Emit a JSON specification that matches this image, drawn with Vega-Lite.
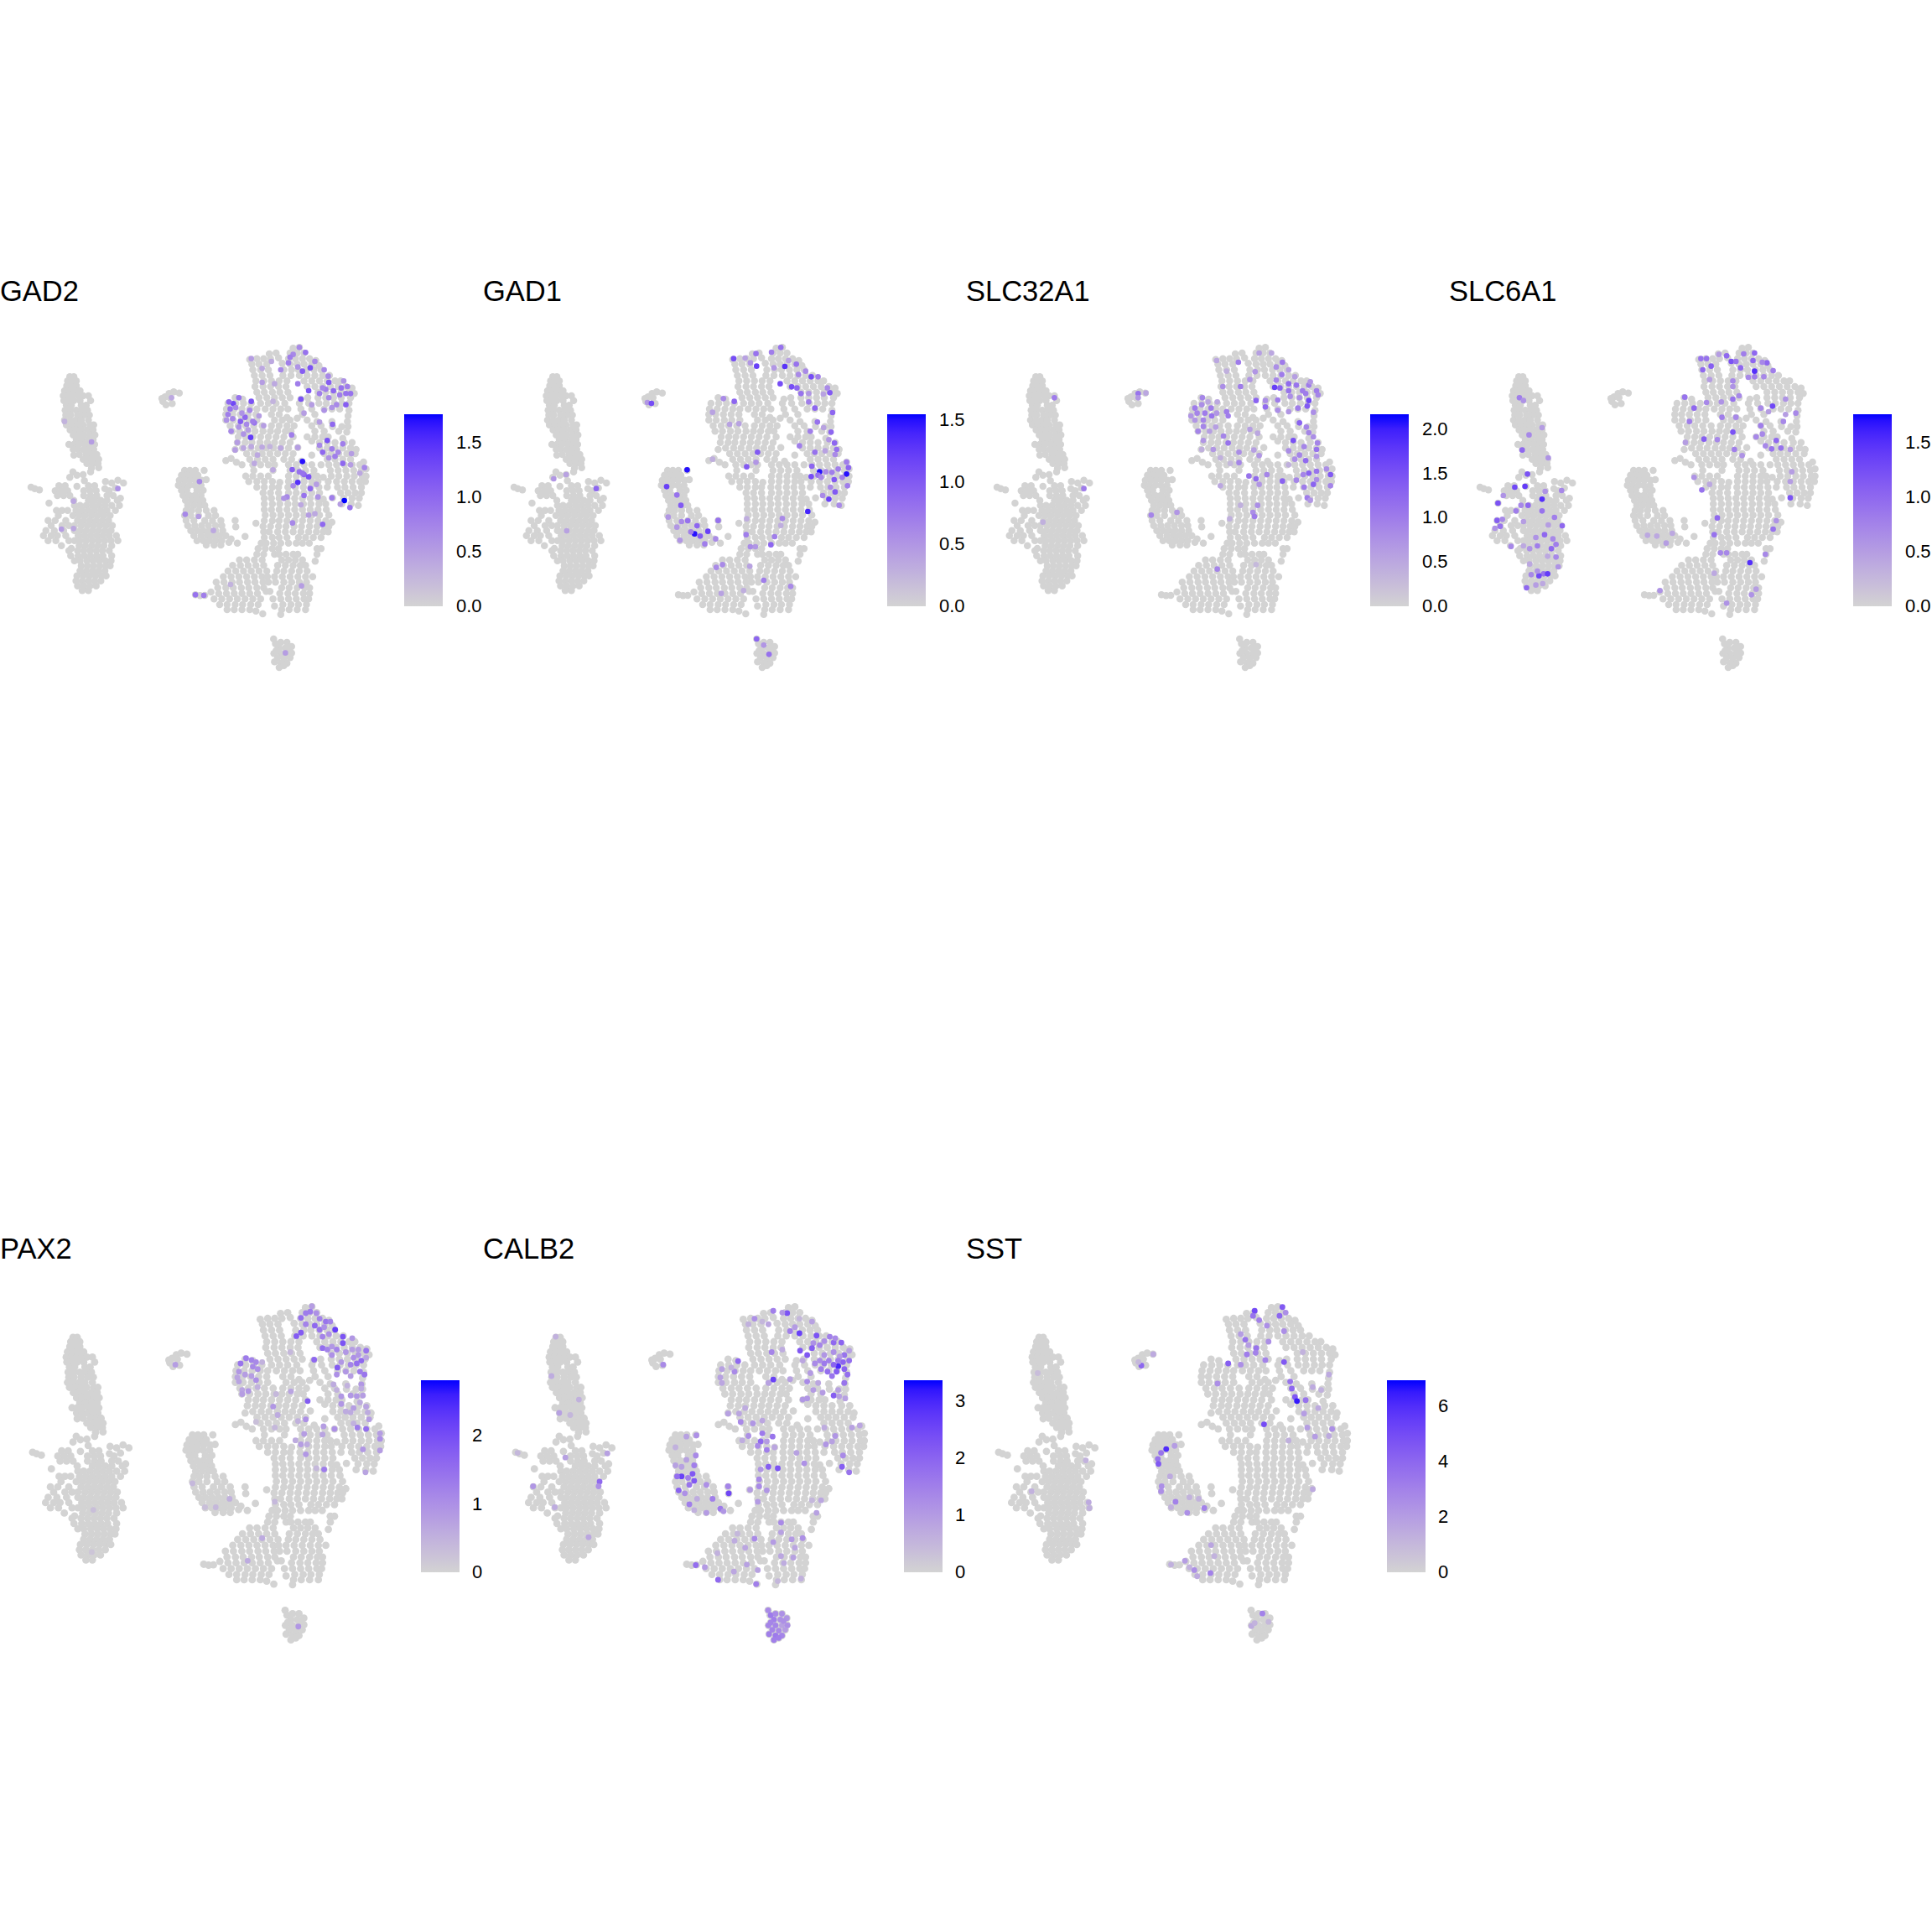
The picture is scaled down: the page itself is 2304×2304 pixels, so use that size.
{"$schema":"https://vega.github.io/schema/vega-lite/v6.json","padding":{"left":0,"top":330,"right":0,"bottom":0},"background":"white","columns":4,"spacing":{"row":620,"column":0},"bounds":"flush","resolve":{"scale":{"color":"independent"},"legend":{"color":"independent"}},"config":{"view":{"stroke":null},"title":{"font":"Liberation Sans","fontSize":34.5,"fontWeight":"normal","anchor":"start","color":"black"},"legend":{"labelFont":"Liberation Sans","labelFontSize":22,"labelColor":"black"}},"datasets":{"cells":[
{"x":225,"y":370},{"x":238,"y":370},{"x":218,"y":385},{"x":232,"y":385},{"x":246,"y":385},{"x":215,"y":402},{"x":232,"y":402},{"x":246,"y":402},{"x":208,"y":420},{"x":224,"y":420},{"x":240,"y":420},{"x":258,"y":420},{"x":204,"y":438},{"x":220,"y":438},{"x":236,"y":438},{"x":252,"y":438},{"x":268,"y":438},{"x":285,"y":438},{"x":206,"y":455},{"x":222,"y":455},{"x":238,"y":455},{"x":258,"y":455},{"x":292,"y":455},{"x":214,"y":472},{"x":230,"y":472},{"x":262,"y":472},{"x":278,"y":472},{"x":210,"y":490},{"x":228,"y":490},{"x":246,"y":490},{"x":264,"y":490},{"x":282,"y":490},{"x":212,"y":507},{"x":228,"y":507},{"x":250,"y":507},{"x":270,"y":507},{"x":288,"y":507},{"x":208,"y":525},{"x":226,"y":525},{"x":244,"y":525},{"x":262,"y":525},{"x":285,"y":525},{"x":214,"y":542},{"x":232,"y":542},{"x":250,"y":542},{"x":268,"y":542},{"x":290,"y":542},{"x":302,"y":542},{"x":226,"y":560},{"x":244,"y":560},{"x":262,"y":560},{"x":282,"y":560},{"x":300,"y":560},{"x":236,"y":578},{"x":252,"y":578},{"x":270,"y":578},{"x":290,"y":578},{"x":306,"y":578},{"x":246,"y":595},{"x":264,"y":595},{"x":284,"y":595},{"x":300,"y":595},{"x":222,"y":612},{"x":238,"y":612},{"x":255,"y":612},{"x":275,"y":612},{"x":292,"y":612},{"x":305,"y":612},{"x":236,"y":630},{"x":252,"y":630},{"x":270,"y":630},{"x":288,"y":630},{"x":302,"y":630},{"x":238,"y":650},{"x":256,"y":648},{"x":278,"y":648},{"x":296,"y":648},{"x":312,"y":648},{"x":268,"y":665},{"x":288,"y":665},{"x":305,"y":665},{"x":318,"y":665},{"x":280,"y":680},{"x":300,"y":680},{"x":316,"y":680},{"x":318,"y":695},{"x":295,"y":697},{"x":292,"y":710},
{"x":100,"y":765},{"x":112,"y":770},{"x":127,"y":775},{"x":235,"y":710},{"x":225,"y":730},{"x":248,"y":722},{"x":268,"y":720},{"x":272,"y":742},{"x":190,"y":760},{"x":210,"y":760},{"x":285,"y":760},{"x":305,"y":760},{"x":340,"y":745},{"x":360,"y":750},{"x":380,"y":740},{"x":398,"y":750},{"x":178,"y":778},{"x":198,"y":778},{"x":218,"y":778},{"x":248,"y":762},{"x":270,"y":778},{"x":290,"y":778},{"x":310,"y":778},{"x":338,"y":770},{"x":352,"y":778},{"x":372,"y":768},{"x":185,"y":795},{"x":205,"y":795},{"x":225,"y":795},{"x":270,"y":795},{"x":292,"y":795},{"x":312,"y":795},{"x":345,"y":795},{"x":365,"y":795},{"x":388,"y":805},{"x":158,"y":822},{"x":238,"y":812},{"x":285,"y":812},{"x":305,"y":812},{"x":325,"y":812},{"x":345,"y":812},{"x":378,"y":812},{"x":240,"y":830},{"x":258,"y":830},{"x":278,"y":830},{"x":298,"y":830},{"x":318,"y":830},{"x":338,"y":830},{"x":360,"y":830},{"x":385,"y":830},{"x":182,"y":848},{"x":200,"y":848},{"x":218,"y":848},{"x":245,"y":848},{"x":265,"y":848},{"x":285,"y":848},{"x":305,"y":848},{"x":325,"y":848},{"x":345,"y":848},{"x":372,"y":848},{"x":188,"y":866},{"x":235,"y":866},{"x":255,"y":866},{"x":275,"y":866},{"x":295,"y":866},{"x":315,"y":866},{"x":335,"y":866},{"x":355,"y":866},{"x":155,"y":884},{"x":178,"y":884},{"x":212,"y":884},{"x":250,"y":884},{"x":270,"y":884},{"x":290,"y":884},{"x":310,"y":884},{"x":330,"y":884},{"x":350,"y":884},{"x":165,"y":902},{"x":200,"y":902},{"x":222,"y":902},{"x":240,"y":902},{"x":262,"y":902},{"x":282,"y":902},{"x":302,"y":902},{"x":322,"y":902},{"x":342,"y":902},{"x":362,"y":902},{"x":148,"y":920},{"x":175,"y":920},{"x":205,"y":920},{"x":240,"y":920},{"x":258,"y":920},{"x":278,"y":920},{"x":298,"y":920},{"x":318,"y":920},{"x":338,"y":920},{"x":358,"y":920},{"x":140,"y":938},{"x":165,"y":938},{"x":185,"y":938},{"x":212,"y":938},{"x":252,"y":938},{"x":272,"y":938},{"x":292,"y":938},{"x":312,"y":938},{"x":332,"y":938},{"x":352,"y":938},{"x":375,"y":938},{"x":155,"y":956},{"x":180,"y":956},{"x":222,"y":956},{"x":240,"y":956},{"x":258,"y":956},{"x":278,"y":956},{"x":298,"y":956},{"x":318,"y":956},{"x":338,"y":956},{"x":358,"y":956},{"x":380,"y":956},{"x":198,"y":974},{"x":230,"y":984},{"x":255,"y":974},{"x":275,"y":974},{"x":295,"y":974},{"x":315,"y":974},{"x":335,"y":974},{"x":360,"y":974},{"x":222,"y":992},{"x":250,"y":992},{"x":270,"y":992},{"x":290,"y":992},{"x":310,"y":992},{"x":330,"y":992},{"x":352,"y":992},{"x":228,"y":1010},{"x":252,"y":1010},{"x":272,"y":1010},{"x":292,"y":1010},{"x":312,"y":1010},{"x":332,"y":1010},{"x":360,"y":1010},{"x":240,"y":1028},{"x":258,"y":1028},{"x":280,"y":1028},{"x":300,"y":1028},{"x":320,"y":1028},{"x":340,"y":1028},{"x":358,"y":1028},{"x":262,"y":1046},{"x":282,"y":1046},{"x":302,"y":1046},{"x":322,"y":1046},{"x":342,"y":1046},{"x":355,"y":1046},{"x":258,"y":1064},{"x":278,"y":1064},{"x":298,"y":1064},{"x":318,"y":1064},{"x":338,"y":1064},{"x":248,"y":1082},{"x":268,"y":1082},{"x":288,"y":1082},{"x":308,"y":1082},{"x":328,"y":1082},{"x":342,"y":1082},{"x":245,"y":1100},{"x":265,"y":1100},{"x":285,"y":1100},{"x":305,"y":1100},{"x":325,"y":1100},{"x":250,"y":1118},{"x":270,"y":1118},{"x":290,"y":1118},{"x":310,"y":1118},{"x":265,"y":1135},{"x":285,"y":1135},
{"x":525,"y":458},{"x":532,"y":442},{"x":545,"y":430},{"x":560,"y":424},{"x":578,"y":428},{"x":555,"y":466},{"x":535,"y":470},{"x":522,"y":448},{"x":548,"y":445},
{"x":595,"y":705},{"x":612,"y":705},{"x":630,"y":705},{"x":658,"y":705},{"x":585,"y":722},{"x":602,"y":722},{"x":620,"y":722},{"x":638,"y":722},{"x":578,"y":740},{"x":595,"y":740},{"x":612,"y":740},{"x":630,"y":740},{"x":650,"y":740},{"x":665,"y":738},{"x":575,"y":758},{"x":592,"y":758},{"x":610,"y":758},{"x":628,"y":758},{"x":648,"y":758},{"x":585,"y":776},{"x":602,"y":776},{"x":635,"y":776},{"x":655,"y":776},{"x":590,"y":794},{"x":610,"y":794},{"x":628,"y":794},{"x":648,"y":794},{"x":598,"y":812},{"x":618,"y":812},{"x":636,"y":812},{"x":654,"y":812},{"x":605,"y":830},{"x":625,"y":830},{"x":645,"y":830},{"x":660,"y":830},{"x":600,"y":848},{"x":618,"y":848},{"x":640,"y":848},{"x":665,"y":848},{"x":690,"y":848},{"x":595,"y":866},{"x":615,"y":866},{"x":640,"y":866},{"x":672,"y":866},{"x":695,"y":866},{"x":600,"y":884},{"x":625,"y":884},{"x":660,"y":884},{"x":685,"y":884},{"x":712,"y":884},{"x":605,"y":902},{"x":628,"y":902},{"x":650,"y":902},{"x":672,"y":902},{"x":695,"y":902},{"x":715,"y":902},{"x":615,"y":920},{"x":635,"y":920},{"x":655,"y":920},{"x":675,"y":920},{"x":695,"y":920},{"x":718,"y":920},{"x":625,"y":938},{"x":648,"y":938},{"x":668,"y":938},{"x":688,"y":938},{"x":708,"y":938},{"x":728,"y":938},{"x":745,"y":950},{"x":635,"y":956},{"x":655,"y":956},{"x":675,"y":956},{"x":695,"y":956},{"x":715,"y":956},{"x":738,"y":962},{"x":665,"y":972},{"x":690,"y":972},{"x":712,"y":972},{"x":765,"y":965},{"x":758,"y":884},{"x":760,"y":907},{"x":790,"y":941},{"x":825,"y":894},
{"x":945,"y":268},{"x":965,"y":265},{"x":868,"y":288},{"x":890,"y":285},{"x":935,"y":285},{"x":958,"y":285},{"x":980,"y":285},{"x":805,"y":308},{"x":828,"y":305},{"x":850,"y":305},{"x":872,"y":305},{"x":898,"y":302},{"x":930,"y":305},{"x":952,"y":305},{"x":975,"y":305},{"x":998,"y":305},{"x":1018,"y":312},{"x":812,"y":325},{"x":835,"y":325},{"x":860,"y":325},{"x":910,"y":322},{"x":935,"y":325},{"x":958,"y":325},{"x":980,"y":325},{"x":1005,"y":325},{"x":1028,"y":330},{"x":815,"y":345},{"x":840,"y":345},{"x":865,"y":345},{"x":915,"y":345},{"x":940,"y":345},{"x":962,"y":345},{"x":988,"y":345},{"x":1012,"y":345},{"x":1035,"y":345},{"x":820,"y":365},{"x":845,"y":365},{"x":870,"y":365},{"x":912,"y":365},{"x":938,"y":365},{"x":965,"y":365},{"x":990,"y":365},{"x":1015,"y":365},{"x":1040,"y":365},{"x":1062,"y":365},{"x":825,"y":385},{"x":850,"y":385},{"x":875,"y":385},{"x":900,"y":385},{"x":925,"y":385},{"x":980,"y":385},{"x":1005,"y":385},{"x":1030,"y":385},{"x":1055,"y":385},{"x":1080,"y":385},{"x":1098,"y":385},{"x":822,"y":405},{"x":848,"y":405},{"x":872,"y":405},{"x":898,"y":405},{"x":922,"y":405},{"x":990,"y":405},{"x":1015,"y":405},{"x":1040,"y":405},{"x":1065,"y":405},{"x":1090,"y":405},{"x":1115,"y":405},{"x":1135,"y":410},{"x":828,"y":425},{"x":852,"y":425},{"x":878,"y":425},{"x":902,"y":425},{"x":928,"y":425},{"x":1025,"y":425},{"x":1050,"y":425},{"x":1075,"y":425},{"x":1100,"y":425},{"x":1125,"y":425},{"x":1142,"y":430},{"x":758,"y":445},{"x":782,"y":450},{"x":835,"y":445},{"x":860,"y":445},{"x":885,"y":445},{"x":910,"y":445},{"x":935,"y":445},{"x":970,"y":450},{"x":992,"y":445},{"x":1025,"y":445},{"x":1050,"y":445},{"x":1075,"y":445},{"x":1100,"y":445},{"x":1130,"y":445},{"x":735,"y":465},{"x":760,"y":465},{"x":785,"y":465},{"x":810,"y":465},{"x":840,"y":465},{"x":865,"y":465},{"x":890,"y":465},{"x":918,"y":465},{"x":965,"y":465},{"x":995,"y":465},{"x":1028,"y":465},{"x":1052,"y":465},{"x":1078,"y":465},{"x":1102,"y":465},{"x":1125,"y":465},{"x":730,"y":485},{"x":755,"y":485},{"x":780,"y":485},{"x":805,"y":485},{"x":828,"y":485},{"x":855,"y":485},{"x":880,"y":485},{"x":905,"y":485},{"x":928,"y":485},{"x":970,"y":485},{"x":1005,"y":485},{"x":1045,"y":485},{"x":1070,"y":485},{"x":1095,"y":485},{"x":1125,"y":490},{"x":728,"y":505},{"x":750,"y":505},{"x":775,"y":505},{"x":800,"y":505},{"x":825,"y":505},{"x":875,"y":505},{"x":900,"y":505},{"x":925,"y":515},{"x":975,"y":505},{"x":1015,"y":505},{"x":1122,"y":510},{"x":728,"y":525},{"x":752,"y":525},{"x":778,"y":525},{"x":802,"y":525},{"x":828,"y":525},{"x":885,"y":525},{"x":910,"y":525},{"x":935,"y":525},{"x":958,"y":518},{"x":990,"y":525},{"x":1022,"y":530},{"x":1070,"y":530},{"x":1120,"y":530},{"x":742,"y":545},{"x":768,"y":545},{"x":792,"y":545},{"x":818,"y":545},{"x":845,"y":545},{"x":875,"y":545},{"x":900,"y":545},{"x":925,"y":545},{"x":948,"y":545},{"x":1005,"y":545},{"x":1035,"y":545},{"x":1072,"y":548},{"x":1102,"y":548},{"x":1122,"y":548},{"x":748,"y":565},{"x":772,"y":565},{"x":798,"y":565},{"x":822,"y":565},{"x":848,"y":565},{"x":872,"y":565},{"x":895,"y":565},{"x":920,"y":565},{"x":938,"y":565},{"x":1015,"y":565},{"x":1045,"y":565},{"x":1092,"y":565},{"x":1118,"y":568},{"x":768,"y":585},{"x":792,"y":585},{"x":815,"y":585},{"x":840,"y":585},{"x":865,"y":585},{"x":890,"y":585},{"x":915,"y":585},{"x":945,"y":585},{"x":990,"y":585},{"x":1015,"y":585},{"x":1040,"y":585},{"x":1058,"y":585},{"x":1105,"y":590},{"x":765,"y":605},{"x":790,"y":605},{"x":812,"y":605},{"x":838,"y":605},{"x":862,"y":605},{"x":885,"y":605},{"x":910,"y":605},{"x":935,"y":605},{"x":1005,"y":600},{"x":1030,"y":605},{"x":1055,"y":605},{"x":1080,"y":605},{"x":1110,"y":605},{"x":1135,"y":605},{"x":758,"y":630},{"x":782,"y":625},{"x":808,"y":625},{"x":832,"y":625},{"x":858,"y":625},{"x":882,"y":625},{"x":905,"y":625},{"x":930,"y":625},{"x":960,"y":623},{"x":1030,"y":625},{"x":1055,"y":625},{"x":1080,"y":625},{"x":1105,"y":625},{"x":1130,"y":625},{"x":1148,"y":630},{"x":795,"y":645},{"x":820,"y":645},{"x":845,"y":645},{"x":870,"y":645},{"x":895,"y":645},{"x":920,"y":645},{"x":945,"y":645},{"x":1005,"y":650},{"x":1045,"y":645},{"x":1068,"y":645},{"x":1092,"y":645},{"x":1118,"y":645},{"x":1145,"y":645},{"x":728,"y":670},{"x":745,"y":662},{"x":805,"y":665},{"x":830,"y":665},{"x":855,"y":665},{"x":880,"y":665},{"x":915,"y":665},{"x":940,"y":665},{"x":972,"y":672},{"x":1055,"y":665},{"x":1080,"y":665},{"x":1105,"y":665},{"x":1130,"y":665},{"x":762,"y":676},{"x":780,"y":685},{"x":815,"y":685},{"x":840,"y":685},{"x":865,"y":685},{"x":885,"y":685},{"x":930,"y":685},{"x":955,"y":685},{"x":980,"y":685},{"x":1005,"y":685},{"x":1035,"y":685},{"x":1060,"y":685},{"x":1085,"y":685},{"x":1110,"y":685},{"x":1135,"y":685},{"x":1160,"y":685},{"x":1172,"y":675},{"x":818,"y":705},{"x":880,"y":705},{"x":935,"y":705},{"x":960,"y":705},{"x":985,"y":705},{"x":1012,"y":705},{"x":1065,"y":705},{"x":1090,"y":705},{"x":1115,"y":705},{"x":1140,"y":705},{"x":1165,"y":705},{"x":1180,"y":700},{"x":792,"y":725},{"x":815,"y":725},{"x":840,"y":725},{"x":865,"y":725},{"x":930,"y":725},{"x":955,"y":725},{"x":980,"y":725},{"x":1005,"y":725},{"x":1022,"y":725},{"x":1042,"y":730},{"x":1068,"y":725},{"x":1092,"y":725},{"x":1118,"y":725},{"x":1142,"y":725},{"x":1168,"y":725},{"x":1180,"y":725},{"x":802,"y":745},{"x":828,"y":745},{"x":852,"y":745},{"x":878,"y":745},{"x":902,"y":748},{"x":930,"y":745},{"x":955,"y":745},{"x":980,"y":745},{"x":1005,"y":745},{"x":1025,"y":745},{"x":1058,"y":745},{"x":1085,"y":745},{"x":1110,"y":745},{"x":1135,"y":745},{"x":1160,"y":745},{"x":1178,"y":745},{"x":828,"y":765},{"x":852,"y":765},{"x":878,"y":765},{"x":898,"y":765},{"x":928,"y":765},{"x":952,"y":765},{"x":978,"y":765},{"x":1002,"y":765},{"x":1028,"y":765},{"x":1055,"y":765},{"x":1088,"y":765},{"x":1112,"y":765},{"x":1138,"y":765},{"x":1165,"y":765},{"x":848,"y":785},{"x":872,"y":785},{"x":898,"y":785},{"x":930,"y":785},{"x":955,"y":785},{"x":980,"y":785},{"x":1005,"y":785},{"x":1030,"y":785},{"x":1098,"y":785},{"x":1122,"y":785},{"x":1145,"y":785},{"x":1165,"y":785},{"x":852,"y":805},{"x":875,"y":805},{"x":900,"y":805},{"x":925,"y":805},{"x":950,"y":805},{"x":975,"y":805},{"x":1000,"y":805},{"x":1025,"y":805},{"x":1042,"y":808},{"x":1072,"y":803},{"x":1108,"y":805},{"x":1135,"y":805},{"x":1158,"y":805},{"x":852,"y":825},{"x":878,"y":825},{"x":902,"y":825},{"x":928,"y":825},{"x":952,"y":825},{"x":978,"y":825},{"x":1002,"y":825},{"x":1028,"y":825},{"x":1050,"y":825},{"x":1102,"y":825},{"x":1132,"y":825},{"x":1155,"y":830},{"x":852,"y":845},{"x":875,"y":845},{"x":900,"y":845},{"x":925,"y":845},{"x":950,"y":845},{"x":975,"y":845},{"x":1000,"y":845},{"x":1025,"y":845},{"x":1052,"y":845},{"x":855,"y":865},{"x":880,"y":865},{"x":905,"y":865},{"x":930,"y":865},{"x":955,"y":865},{"x":980,"y":865},{"x":1005,"y":865},{"x":1030,"y":865},{"x":1060,"y":865},{"x":852,"y":885},{"x":878,"y":885},{"x":900,"y":885},{"x":925,"y":885},{"x":950,"y":885},{"x":975,"y":885},{"x":1000,"y":885},{"x":1025,"y":885},{"x":1050,"y":885},{"x":1070,"y":890},{"x":848,"y":905},{"x":872,"y":905},{"x":898,"y":905},{"x":922,"y":905},{"x":948,"y":905},{"x":972,"y":905},{"x":998,"y":905},{"x":1022,"y":905},{"x":1045,"y":905},{"x":1060,"y":905},{"x":850,"y":925},{"x":868,"y":925},{"x":895,"y":925},{"x":920,"y":925},{"x":945,"y":925},{"x":970,"y":925},{"x":995,"y":925},{"x":1020,"y":925},{"x":1042,"y":925},{"x":1058,"y":925},{"x":852,"y":945},{"x":878,"y":945},{"x":900,"y":945},{"x":925,"y":945},{"x":962,"y":945},{"x":985,"y":945},{"x":1010,"y":945},{"x":1035,"y":945},{"x":842,"y":965},{"x":858,"y":965},{"x":882,"y":965},{"x":905,"y":965},{"x":930,"y":965},{"x":955,"y":965},{"x":975,"y":965},{"x":997,"y":965},{"x":832,"y":985},{"x":855,"y":985},{"x":878,"y":985},{"x":898,"y":985},{"x":1022,"y":985},{"x":1035,"y":985},{"x":828,"y":1005},{"x":850,"y":1005},{"x":885,"y":1005},{"x":900,"y":1005},{"x":922,"y":1005},{"x":945,"y":1005},{"x":960,"y":1005},{"x":1022,"y":1005},{"x":772,"y":1025},{"x":795,"y":1025},{"x":820,"y":1025},{"x":845,"y":1025},{"x":908,"y":1025},{"x":930,"y":1025},{"x":952,"y":1025},{"x":975,"y":1025},{"x":1016,"y":1030},{"x":750,"y":1045},{"x":775,"y":1045},{"x":800,"y":1045},{"x":825,"y":1045},{"x":850,"y":1045},{"x":895,"y":1045},{"x":920,"y":1045},{"x":945,"y":1045},{"x":968,"y":1045},{"x":985,"y":1045},{"x":735,"y":1065},{"x":760,"y":1065},{"x":785,"y":1065},{"x":810,"y":1065},{"x":835,"y":1065},{"x":860,"y":1065},{"x":892,"y":1065},{"x":915,"y":1065},{"x":940,"y":1065},{"x":965,"y":1065},{"x":990,"y":1065},{"x":720,"y":1085},{"x":745,"y":1085},{"x":770,"y":1085},{"x":795,"y":1085},{"x":820,"y":1085},{"x":845,"y":1085},{"x":862,"y":1085},{"x":885,"y":1085},{"x":910,"y":1085},{"x":935,"y":1085},{"x":960,"y":1085},{"x":985,"y":1085},{"x":1008,"y":1085},{"x":697,"y":1105},{"x":722,"y":1105},{"x":748,"y":1105},{"x":772,"y":1105},{"x":798,"y":1105},{"x":822,"y":1105},{"x":848,"y":1105},{"x":865,"y":1105},{"x":888,"y":1105},{"x":915,"y":1105},{"x":940,"y":1105},{"x":965,"y":1105},{"x":988,"y":1105},{"x":702,"y":1125},{"x":728,"y":1125},{"x":752,"y":1125},{"x":778,"y":1125},{"x":802,"y":1125},{"x":828,"y":1125},{"x":850,"y":1125},{"x":908,"y":1125},{"x":932,"y":1125},{"x":958,"y":1125},{"x":982,"y":1125},{"x":998,"y":1125},{"x":680,"y":1140},{"x":705,"y":1145},{"x":730,"y":1145},{"x":755,"y":1145},{"x":780,"y":1145},{"x":805,"y":1145},{"x":830,"y":1145},{"x":858,"y":1138},{"x":870,"y":1138},{"x":902,"y":1145},{"x":928,"y":1145},{"x":952,"y":1145},{"x":978,"y":1145},{"x":998,"y":1145},{"x":630,"y":1150},{"x":645,"y":1153},{"x":660,"y":1152},{"x":690,"y":1165},{"x":715,"y":1165},{"x":740,"y":1165},{"x":765,"y":1165},{"x":790,"y":1165},{"x":815,"y":1165},{"x":840,"y":1165},{"x":880,"y":1165},{"x":905,"y":1165},{"x":930,"y":1165},{"x":955,"y":1165},{"x":980,"y":1165},{"x":995,"y":1165},{"x":708,"y":1185},{"x":732,"y":1185},{"x":758,"y":1185},{"x":782,"y":1185},{"x":808,"y":1185},{"x":832,"y":1185},{"x":885,"y":1190},{"x":912,"y":1185},{"x":938,"y":1185},{"x":962,"y":1185},{"x":988,"y":1185},{"x":732,"y":1203},{"x":755,"y":1203},{"x":780,"y":1203},{"x":805,"y":1203},{"x":825,"y":1208},{"x":908,"y":1203},{"x":932,"y":1203},{"x":958,"y":1203},{"x":985,"y":1203},{"x":847,"y":1218},{"x":905,"y":1220},
{"x":882,"y":1308},{"x":888,"y":1325},{"x":905,"y":1320},{"x":925,"y":1320},{"x":940,"y":1335},{"x":900,"y":1340},{"x":920,"y":1340},{"x":883,"y":1360},{"x":905,"y":1360},{"x":925,"y":1360},{"x":940,"y":1358},{"x":895,"y":1375},{"x":915,"y":1378},{"x":935,"y":1375},{"x":885,"y":1390},{"x":905,"y":1395},{"x":925,"y":1395},{"x":900,"y":1410},{"x":915,"y":1403},{"x":930,"y":1345},{"x":890,"y":1350}
],"GAD2":[
{"x":752,"y":466,"v":1.3},{"x":738,"y":460,"v":1.0},{"x":742,"y":485,"v":0.9},{"x":770,"y":445,"v":0.9},{"x":760,"y":480,"v":0.7},{"x":735,"y":505,"v":0.8},{"x":750,"y":520,"v":0.7},{"x":775,"y":530,"v":1.1},{"x":790,"y":515,"v":1.0},{"x":810,"y":458,"v":1.2},{"x":805,"y":490,"v":0.7},{"x":820,"y":535,"v":0.9},{"x":795,"y":540,"v":0.7},{"x":770,"y":550,"v":0.6},{"x":745,"y":565,"v":0.7},{"x":808,"y":587,"v":1.4},{"x":785,"y":575,"v":0.6},{"x":765,"y":605,"v":0.5},{"x":758,"y":632,"v":0.5},{"x":815,"y":530,"v":0.8},{"x":835,"y":510,"v":0.5},{"x":850,"y":545,"v":0.5},{"x":730,"y":525,"v":0.6},{"x":780,"y":500,"v":0.6},{"x":800,"y":560,"v":0.5},{"x":845,"y":622,"v":0.4},{"x":810,"y":620,"v":0.4},{"x":785,"y":625,"v":0.4},{"x":830,"y":650,"v":0.4},{"x":870,"y":620,"v":0.3},{"x":880,"y":458,"v":0.3},{"x":885,"y":395,"v":0.4},{"x":845,"y":390,"v":0.5},{"x":845,"y":340,"v":0.4},{"x":810,"y":305,"v":0.5},{"x":875,"y":315,"v":0.4},{"x":905,"y":345,"v":0.7},{"x":940,"y":578,"v":0.8},{"x":905,"y":625,"v":0.4},{"x":960,"y":623,"v":0.5},{"x":880,"y":703,"v":0.4},{"x":820,"y":680,"v":0.4},{"x":965,"y":265,"v":0.7},{"x":985,"y":283,"v":0.9},{"x":945,"y":290,"v":0.7},{"x":930,"y":320,"v":0.8},{"x":1000,"y":338,"v":1.2},{"x":960,"y":335,"v":0.6},{"x":975,"y":350,"v":1.1},{"x":1015,"y":315,"v":0.7},{"x":1045,"y":345,"v":0.7},{"x":1060,"y":390,"v":1.1},{"x":1030,"y":430,"v":0.8},{"x":1050,"y":415,"v":0.8},{"x":1075,"y":420,"v":1.0},{"x":1100,"y":410,"v":0.9},{"x":1120,"y":405,"v":0.8},{"x":1130,"y":430,"v":0.9},{"x":1095,"y":435,"v":0.8},{"x":1060,"y":445,"v":0.7},{"x":1085,"y":470,"v":0.7},{"x":1045,"y":490,"v":0.6},{"x":1070,"y":480,"v":0.6},{"x":1115,"y":470,"v":1.1},{"x":1108,"y":385,"v":0.6},{"x":960,"y":395,"v":0.8},{"x":995,"y":420,"v":1.2},{"x":970,"y":450,"v":1.2},{"x":1005,"y":470,"v":0.5},{"x":980,"y":500,"v":0.5},{"x":1058,"y":368,"v":0.7},{"x":935,"y":300,"v":0.8},{"x":1040,"y":410,"v":0.7},{"x":1115,"y":430,"v":0.9},{"x":1072,"y":540,"v":1.0},{"x":1030,"y":532,"v":0.5},{"x":1055,"y":598,"v":1.2},{"x":1105,"y":610,"v":0.8},{"x":1040,"y":640,"v":1.0},{"x":1070,"y":628,"v":0.8},{"x":1090,"y":640,"v":0.7},{"x":1060,"y":660,"v":0.6},{"x":1133,"y":645,"v":0.5},{"x":1080,"y":655,"v":0.8},{"x":1030,"y":615,"v":0.7},{"x":1105,"y":680,"v":1.0},{"x":1130,"y":685,"v":0.5},{"x":975,"y":673,"v":1.7},{"x":942,"y":702,"v":1.1},{"x":965,"y":710,"v":0.9},{"x":980,"y":720,"v":1.0},{"x":995,"y":728,"v":1.2},{"x":960,"y":748,"v":1.5},{"x":945,"y":760,"v":0.7},{"x":1000,"y":770,"v":1.0},{"x":980,"y":795,"v":0.9},{"x":925,"y":800,"v":0.7},{"x":1025,"y":800,"v":0.6},{"x":970,"y":828,"v":0.4},{"x":995,"y":865,"v":0.5},{"x":943,"y":893,"v":0.7},{"x":1040,"y":898,"v":1.0},{"x":975,"y":715,"v":0.9},{"x":1020,"y":755,"v":0.5},{"x":915,"y":805,"v":0.6},{"x":1015,"y":860,"v":0.4},{"x":1110,"y":813,"v":1.76},{"x":1070,"y":803,"v":0.8},{"x":1128,"y":838,"v":0.9},{"x":1097,"y":826,"v":0.5},{"x":1160,"y":715,"v":0.4},{"x":1175,"y":695,"v":0.7},{"x":553,"y":445,"v":0.4},{"x":380,"y":770,"v":0.6},{"x":198,"y":915,"v":0.5},{"x":237,"y":815,"v":0.4},{"x":237,"y":913,"v":0.4},{"x":643,"y":745,"v":0.7},{"x":597,"y":862,"v":0.7},{"x":640,"y":870,"v":0.5},{"x":688,"y":920,"v":0.4},{"x":972,"y":1118,"v":0.5},{"x":920,"y":1358,"v":0.5},{"x":630,"y":1150,"v":0.9},{"x":657,"y":1152,"v":0.8},{"x":743,"y":1113,"v":0.3},{"x":295,"y":603,"v":0.5},{"x":208,"y":530,"v":0.3}
],"GAD1":[
{"x":808,"y":305,"v":1.1},{"x":845,"y":303,"v":0.4},{"x":862,"y":320,"v":0.5},{"x":882,"y":332,"v":1.2},{"x":880,"y":287,"v":0.8},{"x":930,"y":282,"v":0.7},{"x":960,"y":265,"v":0.8},{"x":985,"y":312,"v":0.4},{"x":973,"y":333,"v":1.3},{"x":938,"y":338,"v":0.5},{"x":1010,"y":325,"v":0.8},{"x":1017,"y":362,"v":0.6},{"x":1058,"y":370,"v":1.1},{"x":958,"y":395,"v":1.1},{"x":995,"y":406,"v":1.1},{"x":1012,"y":410,"v":0.9},{"x":1025,"y":430,"v":0.8},{"x":1050,"y":430,"v":0.5},{"x":1118,"y":427,"v":1.0},{"x":1110,"y":410,"v":0.6},{"x":1097,"y":432,"v":0.4},{"x":1070,"y":482,"v":0.9},{"x":1050,"y":460,"v":0.7},{"x":1127,"y":498,"v":0.9},{"x":1080,"y":370,"v":0.7},{"x":1040,"y":350,"v":0.6},{"x":1078,"y":532,"v":0.8},{"x":1098,"y":552,"v":0.4},{"x":1122,"y":568,"v":0.9},{"x":1055,"y":565,"v":0.7},{"x":1115,"y":595,"v":0.5},{"x":1020,"y":617,"v":0.7},{"x":1133,"y":607,"v":0.9},{"x":1140,"y":630,"v":0.8},{"x":1103,"y":635,"v":0.4},{"x":1070,"y":640,"v":0.8},{"x":1135,"y":648,"v":0.6},{"x":1060,"y":690,"v":0.9},{"x":1085,"y":710,"v":1.5},{"x":1058,"y":727,"v":1.1},{"x":1080,"y":722,"v":0.8},{"x":1105,"y":710,"v":0.6},{"x":1125,"y":712,"v":0.7},{"x":1090,"y":730,"v":0.6},{"x":1132,"y":738,"v":1.0},{"x":1172,"y":718,"v":1.5},{"x":1158,"y":730,"v":0.7},{"x":1172,"y":675,"v":0.7},{"x":1178,"y":695,"v":0.9},{"x":1175,"y":760,"v":0.7},{"x":1135,"y":782,"v":1.0},{"x":1145,"y":700,"v":0.7},{"x":1115,"y":808,"v":1.2},{"x":1148,"y":830,"v":0.6},{"x":1095,"y":795,"v":0.6},{"x":1120,"y":765,"v":0.6},{"x":810,"y":458,"v":0.9},{"x":775,"y":448,"v":0.6},{"x":795,"y":540,"v":0.4},{"x":825,"y":538,"v":0.4},{"x":740,"y":497,"v":0.4},{"x":885,"y":640,"v":1.0},{"x":850,"y":692,"v":1.0},{"x":880,"y":676,"v":0.5},{"x":1047,"y":852,"v":1.4},{"x":965,"y":877,"v":0.6},{"x":960,"y":902,"v":0.3},{"x":848,"y":935,"v":0.7},{"x":940,"y":942,"v":0.7},{"x":928,"y":971,"v":0.9},{"x":862,"y":978,"v":0.6},{"x":878,"y":978,"v":0.5},{"x":850,"y":878,"v":0.3},{"x":658,"y":703,"v":1.5},{"x":592,"y":763,"v":1.2},{"x":625,"y":793,"v":0.8},{"x":638,"y":830,"v":1.0},{"x":597,"y":872,"v":0.5},{"x":640,"y":888,"v":0.6},{"x":660,"y":885,"v":0.8},{"x":690,"y":903,"v":0.9},{"x":725,"y":923,"v":1.2},{"x":682,"y":932,"v":1.5},{"x":700,"y":940,"v":1.0},{"x":625,"y":908,"v":0.5},{"x":635,"y":955,"v":0.5},{"x":715,"y":968,"v":0.7},{"x":750,"y":950,"v":0.6},{"x":758,"y":884,"v":0.8},{"x":670,"y":925,"v":0.7},{"x":740,"y":665,"v":0.3},{"x":772,"y":1042,"v":0.6},{"x":752,"y":1052,"v":0.6},{"x":860,"y":1048,"v":0.4},{"x":840,"y":1135,"v":0.3},{"x":768,"y":1145,"v":0.4},{"x":905,"y":1098,"v":0.7},{"x":992,"y":1120,"v":0.6},{"x":530,"y":462,"v":0.5},{"x":543,"y":465,"v":1.1},{"x":270,"y":921,"v":0.4},{"x":268,"y":720,"v":0.4},{"x":228,"y":735,"v":0.5},{"x":365,"y":770,"v":0.9},{"x":882,"y":1308,"v":0.9},{"x":905,"y":1330,"v":0.5},{"x":922,"y":1363,"v":0.8}
],"SLC32A1":[
{"x":762,"y":445,"v":0.9},{"x":738,"y":482,"v":1.0},{"x":760,"y":470,"v":0.8},{"x":745,"y":500,"v":0.9},{"x":770,"y":500,"v":1.0},{"x":790,"y":482,"v":1.0},{"x":792,"y":510,"v":1.1},{"x":765,"y":525,"v":0.9},{"x":738,"y":525,"v":0.7},{"x":748,"y":565,"v":0.9},{"x":765,"y":548,"v":0.9},{"x":785,"y":565,"v":0.6},{"x":808,"y":500,"v":0.7},{"x":805,"y":550,"v":0.6},{"x":725,"y":510,"v":0.7},{"x":780,"y":460,"v":0.5},{"x":810,"y":460,"v":0.5},{"x":845,"y":510,"v":1.0},{"x":840,"y":495,"v":1.0},{"x":808,"y":312,"v":0.5},{"x":878,"y":318,"v":1.0},{"x":840,"y":350,"v":0.4},{"x":828,"y":405,"v":0.8},{"x":885,"y":405,"v":1.0},{"x":915,"y":380,"v":0.7},{"x":935,"y":455,"v":1.3},{"x":965,"y":478,"v":1.2},{"x":932,"y":352,"v":0.7},{"x":945,"y":285,"v":0.6},{"x":985,"y":285,"v":0.5},{"x":1020,"y":318,"v":1.0},{"x":1000,"y":335,"v":0.8},{"x":1018,"y":362,"v":1.0},{"x":1040,"y":345,"v":0.6},{"x":1000,"y":382,"v":0.9},{"x":995,"y":408,"v":1.7},{"x":1012,"y":410,"v":1.3},{"x":1040,"y":395,"v":1.2},{"x":1060,"y":370,"v":0.6},{"x":1065,"y":400,"v":1.1},{"x":1040,"y":420,"v":1.1},{"x":1085,"y":420,"v":1.0},{"x":1105,"y":400,"v":1.0},{"x":1130,"y":420,"v":1.0},{"x":1105,"y":455,"v":1.6},{"x":1100,"y":475,"v":1.4},{"x":1075,"y":445,"v":0.8},{"x":1070,"y":482,"v":1.0},{"x":1120,"y":497,"v":0.8},{"x":1135,"y":435,"v":0.9},{"x":1095,"y":430,"v":1.0},{"x":1005,"y":453,"v":1.0},{"x":1045,"y":440,"v":0.8},{"x":1110,"y":388,"v":0.7},{"x":965,"y":455,"v":0.8},{"x":1040,"y":495,"v":0.7},{"x":1005,"y":490,"v":0.8},{"x":1075,"y":535,"v":1.3},{"x":1097,"y":550,"v":0.9},{"x":1105,"y":570,"v":0.9},{"x":1120,"y":585,"v":0.8},{"x":1055,"y":598,"v":1.5},{"x":1090,"y":620,"v":0.9},{"x":1130,"y":630,"v":1.1},{"x":1133,"y":607,"v":0.9},{"x":1040,"y":635,"v":0.8},{"x":1095,"y":670,"v":1.2},{"x":1060,"y":665,"v":0.8},{"x":1130,"y":655,"v":0.7},{"x":1075,"y":650,"v":0.9},{"x":1130,"y":708,"v":1.1},{"x":1087,"y":720,"v":0.9},{"x":1105,"y":715,"v":1.3},{"x":1175,"y":720,"v":1.4},{"x":1162,"y":700,"v":0.8},{"x":1120,"y":755,"v":1.3},{"x":1090,"y":765,"v":1.0},{"x":1175,"y":760,"v":0.9},{"x":1100,"y":803,"v":1.0},{"x":1130,"y":738,"v":0.8},{"x":1065,"y":740,"v":0.9},{"x":1110,"y":812,"v":0.7},{"x":1040,"y":685,"v":0.4},{"x":830,"y":582,"v":0.9},{"x":845,"y":607,"v":1.1},{"x":797,"y":630,"v":0.7},{"x":765,"y":598,"v":0.7},{"x":760,"y":630,"v":0.4},{"x":880,"y":677,"v":0.9},{"x":945,"y":652,"v":0.7},{"x":928,"y":632,"v":0.6},{"x":852,"y":680,"v":0.3},{"x":820,"y":660,"v":0.4},{"x":915,"y":558,"v":0.6},{"x":940,"y":572,"v":0.5},{"x":880,"y":640,"v":0.8},{"x":912,"y":725,"v":1.1},{"x":935,"y":735,"v":1.2},{"x":970,"y":720,"v":0.9},{"x":945,"y":755,"v":0.7},{"x":1020,"y":743,"v":1.3},{"x":820,"y":760,"v":0.5},{"x":940,"y":830,"v":0.8},{"x":925,"y":855,"v":0.8},{"x":930,"y":870,"v":1.0},{"x":885,"y":830,"v":0.4},{"x":850,"y":878,"v":0.4},{"x":555,"y":430,"v":1.1},{"x":555,"y":445,"v":0.7},{"x":580,"y":428,"v":0.5},{"x":285,"y":445,"v":1.0},{"x":380,"y":770,"v":1.0},{"x":810,"y":1058,"v":0.9},{"x":597,"y":865,"v":0.9},{"x":680,"y":855,"v":0.7},{"x":248,"y":890,"v":0.4},{"x":935,"y":1042,"v":0.3}
],"SLC6A1":[
{"x":227,"y":445,"v":0.8},{"x":240,"y":455,"v":0.6},{"x":258,"y":578,"v":0.7},{"x":236,"y":632,"v":1.0},{"x":320,"y":660,"v":0.6},{"x":300,"y":552,"v":0.5},{"x":253,"y":718,"v":1.2},{"x":212,"y":765,"v":1.3},{"x":245,"y":762,"v":1.4},{"x":175,"y":795,"v":0.6},{"x":158,"y":822,"v":1.2},{"x":232,"y":830,"v":0.7},{"x":255,"y":830,"v":1.0},{"x":300,"y":808,"v":1.5},{"x":310,"y":780,"v":0.6},{"x":363,"y":777,"v":0.7},{"x":300,"y":850,"v":0.9},{"x":216,"y":850,"v":0.8},{"x":155,"y":884,"v":1.1},{"x":172,"y":880,"v":0.7},{"x":165,"y":905,"v":0.9},{"x":148,"y":912,"v":0.6},{"x":240,"y":888,"v":0.5},{"x":340,"y":873,"v":0.8},{"x":365,"y":903,"v":1.0},{"x":320,"y":900,"v":0.5},{"x":308,"y":935,"v":1.0},{"x":280,"y":945,"v":0.6},{"x":335,"y":950,"v":0.7},{"x":345,"y":970,"v":0.8},{"x":285,"y":975,"v":0.8},{"x":200,"y":977,"v":0.7},{"x":260,"y":985,"v":0.6},{"x":330,"y":985,"v":1.0},{"x":318,"y":1012,"v":0.4},{"x":352,"y":1050,"v":0.6},{"x":305,"y":1075,"v":0.9},{"x":290,"y":1082,"v":1.3},{"x":318,"y":1075,"v":1.4},{"x":265,"y":1078,"v":0.7},{"x":285,"y":1065,"v":0.6},{"x":250,"y":1125,"v":1.0},{"x":280,"y":1115,"v":0.5},{"x":302,"y":1110,"v":0.4},{"x":345,"y":1015,"v":0.7},{"x":260,"y":1040,"v":0.4},{"x":240,"y":975,"v":0.4},{"x":812,"y":305,"v":0.9},{"x":830,"y":305,"v":0.9},{"x":845,"y":332,"v":1.1},{"x":818,"y":345,"v":1.0},{"x":870,"y":290,"v":0.5},{"x":895,"y":295,"v":1.0},{"x":910,"y":315,"v":1.2},{"x":925,"y":315,"v":0.9},{"x":950,"y":288,"v":0.8},{"x":985,"y":285,"v":1.0},{"x":980,"y":312,"v":1.0},{"x":985,"y":350,"v":1.5},{"x":1025,"y":320,"v":1.0},{"x":1010,"y":318,"v":0.7},{"x":1045,"y":348,"v":0.8},{"x":940,"y":338,"v":1.0},{"x":965,"y":372,"v":0.7},{"x":985,"y":370,"v":0.8},{"x":1015,"y":370,"v":0.7},{"x":840,"y":380,"v":0.5},{"x":915,"y":385,"v":0.7},{"x":915,"y":405,"v":0.6},{"x":1043,"y":475,"v":1.3},{"x":1085,"y":450,"v":0.6},{"x":1030,"y":495,"v":0.5},{"x":1085,"y":505,"v":0.5},{"x":1118,"y":500,"v":0.7},{"x":1005,"y":482,"v":0.7},{"x":935,"y":438,"v":0.7},{"x":915,"y":450,"v":0.9},{"x":878,"y":460,"v":0.6},{"x":830,"y":462,"v":0.7},{"x":760,"y":443,"v":0.9},{"x":790,"y":482,"v":1.0},{"x":775,"y":530,"v":0.8},{"x":880,"y":515,"v":0.8},{"x":925,"y":515,"v":0.7},{"x":915,"y":568,"v":1.2},{"x":822,"y":593,"v":1.1},{"x":865,"y":595,"v":0.7},{"x":920,"y":630,"v":0.8},{"x":945,"y":652,"v":0.6},{"x":762,"y":605,"v":0.5},{"x":1005,"y":545,"v":0.8},{"x":1010,"y":575,"v":0.7},{"x":990,"y":585,"v":0.7},{"x":1055,"y":598,"v":1.0},{"x":1020,"y":617,"v":0.7},{"x":1040,"y":628,"v":0.9},{"x":1070,"y":625,"v":0.9},{"x":1100,"y":630,"v":0.5},{"x":1078,"y":530,"v":0.7},{"x":790,"y":730,"v":0.6},{"x":815,"y":775,"v":0.9},{"x":840,"y":755,"v":0.4},{"x":865,"y":875,"v":1.0},{"x":855,"y":935,"v":0.9},{"x":1045,"y":915,"v":0.9},{"x":1055,"y":885,"v":0.6},{"x":895,"y":1000,"v":0.7},{"x":875,"y":1000,"v":0.7},{"x":1100,"y":803,"v":1.2},{"x":1100,"y":745,"v":0.5},{"x":1105,"y":710,"v":0.5},{"x":1020,"y":1005,"v":0.7},{"x":970,"y":1035,"v":1.5},{"x":975,"y":1150,"v":0.6},{"x":990,"y":1130,"v":0.5},{"x":895,"y":1180,"v":0.6},{"x":680,"y":1135,"v":0.6},{"x":640,"y":937,"v":0.4},{"x":670,"y":940,"v":0.4},{"x":720,"y":930,"v":0.4},{"x":700,"y":965,"v":0.5},{"x":855,"y":1073,"v":0.4}
],"PAX2":[
{"x":965,"y":263,"v":0.8},{"x":946,"y":287,"v":1.3},{"x":931,"y":303,"v":1.5},{"x":960,"y":282,"v":1.3},{"x":979,"y":287,"v":1.0},{"x":989,"y":306,"v":1.2},{"x":974,"y":330,"v":1.6},{"x":946,"y":325,"v":1.2},{"x":931,"y":354,"v":1.8},{"x":917,"y":366,"v":1.8},{"x":1008,"y":316,"v":1.4},{"x":1022,"y":316,"v":1.2},{"x":989,"y":344,"v":1.4},{"x":1003,"y":335,"v":1.0},{"x":1018,"y":359,"v":1.0},{"x":998,"y":368,"v":1.2},{"x":1037,"y":344,"v":2.2},{"x":1061,"y":368,"v":1.9},{"x":1061,"y":390,"v":1.9},{"x":998,"y":407,"v":1.5},{"x":1013,"y":412,"v":1.2},{"x":1042,"y":412,"v":1.2},{"x":1027,"y":431,"v":1.0},{"x":1070,"y":421,"v":0.9},{"x":1090,"y":373,"v":0.9},{"x":1090,"y":412,"v":0.8},{"x":1109,"y":412,"v":0.8},{"x":1133,"y":416,"v":1.4},{"x":1118,"y":450,"v":1.6},{"x":1104,"y":460,"v":1.5},{"x":1085,"y":464,"v":1.2},{"x":1044,"y":474,"v":1.8},{"x":1056,"y":455,"v":0.9},{"x":1070,"y":488,"v":0.9},{"x":1042,"y":498,"v":1.0},{"x":1085,"y":503,"v":0.8},{"x":1128,"y":498,"v":1.4},{"x":1114,"y":488,"v":1.3},{"x":1094,"y":440,"v":1.0},{"x":1133,"y":440,"v":0.7},{"x":1109,"y":431,"v":0.9},{"x":1027,"y":402,"v":0.9},{"x":972,"y":447,"v":1.6},{"x":898,"y":421,"v":0.4},{"x":761,"y":442,"v":1.3},{"x":744,"y":460,"v":1.4},{"x":778,"y":448,"v":1.2},{"x":792,"y":455,"v":1.1},{"x":782,"y":471,"v":1.1},{"x":797,"y":479,"v":1.0},{"x":739,"y":488,"v":0.9},{"x":758,"y":498,"v":0.8},{"x":792,"y":517,"v":1.0},{"x":778,"y":503,"v":0.8},{"x":739,"y":522,"v":0.7},{"x":749,"y":551,"v":0.7},{"x":768,"y":555,"v":0.9},{"x":797,"y":541,"v":0.5},{"x":749,"y":565,"v":0.8},{"x":734,"y":508,"v":0.7},{"x":811,"y":455,"v":0.5},{"x":1032,"y":532,"v":0.6},{"x":1075,"y":536,"v":0.5},{"x":1118,"y":532,"v":0.9},{"x":1042,"y":551,"v":0.5},{"x":1118,"y":546,"v":0.6},{"x":1056,"y":573,"v":0.9},{"x":1085,"y":570,"v":0.9},{"x":1104,"y":572,"v":0.9},{"x":1123,"y":570,"v":0.8},{"x":1056,"y":599,"v":0.9},{"x":1114,"y":594,"v":0.6},{"x":1094,"y":613,"v":0.8},{"x":1070,"y":625,"v":0.6},{"x":1085,"y":628,"v":0.6},{"x":1133,"y":608,"v":0.7},{"x":1138,"y":628,"v":0.6},{"x":1142,"y":652,"v":0.8},{"x":1094,"y":666,"v":0.5},{"x":1106,"y":680,"v":1.3},{"x":1133,"y":685,"v":1.5},{"x":1035,"y":685,"v":1.0},{"x":1001,"y":676,"v":0.8},{"x":998,"y":704,"v":0.7},{"x":1176,"y":700,"v":0.8},{"x":1176,"y":719,"v":1.0},{"x":1176,"y":759,"v":0.8},{"x":1123,"y":755,"v":0.9},{"x":1131,"y":834,"v":0.7},{"x":952,"y":589,"v":1.8},{"x":946,"y":652,"v":1.0},{"x":922,"y":658,"v":0.5},{"x":941,"y":702,"v":0.8},{"x":914,"y":724,"v":0.6},{"x":931,"y":738,"v":0.8},{"x":950,"y":738,"v":0.6},{"x":946,"y":772,"v":0.9},{"x":845,"y":608,"v":0.9},{"x":859,"y":637,"v":0.6},{"x":792,"y":661,"v":0.3},{"x":850,"y":680,"v":0.4},{"x":854,"y":565,"v":0.4},{"x":900,"y":556,"v":0.7},{"x":1003,"y":824,"v":1.3},{"x":979,"y":820,"v":0.4},{"x":542,"y":464,"v":0.8},{"x":595,"y":872,"v":0.4},{"x":710,"y":925,"v":0.5},{"x":634,"y":954,"v":0.3},{"x":667,"y":954,"v":0.4},{"x":850,"y":935,"v":0.4},{"x":811,"y":1060,"v":0.6},{"x":766,"y":1138,"v":0.6},{"x":923,"y":1364,"v":0.9},{"x":288,"y":963,"v":0.3},{"x":283,"y":1108,"v":0.2}
],"CALB2":[
{"x":1099,"y":469,"v":3.0},{"x":1085,"y":388,"v":1.9},{"x":1109,"y":388,"v":2.0},{"x":1073,"y":368,"v":1.5},{"x":1032,"y":364,"v":2.3},{"x":1042,"y":397,"v":1.4},{"x":1022,"y":390,"v":1.2},{"x":1056,"y":383,"v":1.2},{"x":1018,"y":407,"v":2.1},{"x":1003,"y":431,"v":2.2},{"x":981,"y":416,"v":2.2},{"x":1133,"y":416,"v":0.9},{"x":1118,"y":431,"v":1.7},{"x":1133,"y":450,"v":1.8},{"x":1114,"y":455,"v":2.0},{"x":1085,"y":464,"v":2.0},{"x":1070,"y":450,"v":1.5},{"x":1056,"y":460,"v":1.6},{"x":1042,"y":450,"v":1.3},{"x":1027,"y":460,"v":1.3},{"x":1046,"y":479,"v":1.5},{"x":1066,"y":488,"v":1.8},{"x":1080,"y":503,"v":1.7},{"x":1094,"y":488,"v":2.1},{"x":1118,"y":479,"v":2.0},{"x":1128,"y":498,"v":1.8},{"x":1056,"y":431,"v":1.1},{"x":1085,"y":421,"v":1.2},{"x":1104,"y":436,"v":1.0},{"x":1099,"y":450,"v":1.6},{"x":989,"y":450,"v":0.8},{"x":1013,"y":493,"v":1.0},{"x":1090,"y":373,"v":1.3},{"x":941,"y":287,"v":2.3},{"x":898,"y":279,"v":1.5},{"x":926,"y":285,"v":1.1},{"x":840,"y":306,"v":1.2},{"x":821,"y":325,"v":0.6},{"x":883,"y":325,"v":0.8},{"x":965,"y":335,"v":1.0},{"x":979,"y":356,"v":2.6},{"x":950,"y":349,"v":1.5},{"x":1018,"y":316,"v":0.9},{"x":979,"y":306,"v":0.5},{"x":864,"y":316,"v":0.5},{"x":893,"y":421,"v":1.4},{"x":926,"y":412,"v":0.7},{"x":898,"y":515,"v":2.6},{"x":950,"y":514,"v":0.9},{"x":883,"y":527,"v":0.9},{"x":1003,"y":522,"v":1.3},{"x":1037,"y":527,"v":0.8},{"x":1022,"y":551,"v":1.0},{"x":1051,"y":560,"v":1.0},{"x":1003,"y":580,"v":1.1},{"x":989,"y":584,"v":1.1},{"x":1099,"y":551,"v":0.9},{"x":1118,"y":527,"v":1.7},{"x":1085,"y":570,"v":2.1},{"x":1121,"y":580,"v":0.9},{"x":1102,"y":573,"v":0.9},{"x":789,"y":452,"v":1.9},{"x":739,"y":479,"v":0.9},{"x":734,"y":508,"v":0.9},{"x":739,"y":527,"v":0.8},{"x":778,"y":488,"v":1.3},{"x":768,"y":474,"v":0.6},{"x":758,"y":632,"v":0.9},{"x":792,"y":632,"v":0.8},{"x":811,"y":613,"v":0.7},{"x":797,"y":661,"v":1.3},{"x":835,"y":666,"v":1.1},{"x":864,"y":656,"v":0.8},{"x":821,"y":709,"v":1.2},{"x":864,"y":700,"v":1.6},{"x":896,"y":711,"v":1.7},{"x":859,"y":728,"v":1.9},{"x":850,"y":743,"v":1.3},{"x":802,"y":724,"v":0.7},{"x":878,"y":728,"v":1.0},{"x":878,"y":757,"v":1.5},{"x":902,"y":748,"v":0.8},{"x":883,"y":815,"v":2.1},{"x":912,"y":820,"v":2.3},{"x":859,"y":824,"v":1.1},{"x":854,"y":858,"v":1.3},{"x":854,"y":882,"v":1.3},{"x":878,"y":896,"v":1.1},{"x":826,"y":894,"v":1.0},{"x":758,"y":882,"v":1.4},{"x":760,"y":906,"v":2.5},{"x":850,"y":935,"v":1.0},{"x":970,"y":767,"v":0.9},{"x":994,"y":803,"v":1.2},{"x":1018,"y":930,"v":0.5},{"x":1046,"y":930,"v":0.8},{"x":1032,"y":973,"v":0.9},{"x":1090,"y":709,"v":1.1},{"x":1061,"y":738,"v":1.1},{"x":1142,"y":680,"v":0.9},{"x":1114,"y":776,"v":1.3},{"x":1111,"y":815,"v":2.1},{"x":1133,"y":834,"v":1.7},{"x":1166,"y":673,"v":0.8},{"x":1056,"y":680,"v":0.7},{"x":1080,"y":728,"v":0.9},{"x":629,"y":711,"v":0.9},{"x":660,"y":707,"v":1.2},{"x":614,"y":848,"v":2.6},{"x":600,"y":848,"v":1.8},{"x":648,"y":839,"v":2.2},{"x":634,"y":853,"v":1.5},{"x":653,"y":863,"v":2.2},{"x":638,"y":877,"v":1.7},{"x":605,"y":896,"v":2.0},{"x":658,"y":776,"v":1.3},{"x":629,"y":791,"v":0.9},{"x":595,"y":810,"v":0.9},{"x":653,"y":810,"v":1.5},{"x":614,"y":815,"v":0.9},{"x":691,"y":877,"v":1.2},{"x":624,"y":906,"v":1.2},{"x":638,"y":944,"v":1.5},{"x":662,"y":925,"v":0.7},{"x":710,"y":925,"v":1.5},{"x":734,"y":959,"v":1.6},{"x":691,"y":973,"v":1.0},{"x":744,"y":968,"v":1.1},{"x":653,"y":964,"v":0.6},{"x":595,"y":748,"v":0.6},{"x":360,"y":866,"v":1.9},{"x":357,"y":882,"v":1.2},{"x":154,"y":882,"v":1.1},{"x":235,"y":630,"v":0.9},{"x":211,"y":503,"v":0.7},{"x":384,"y":769,"v":0.9},{"x":254,"y":783,"v":0.9},{"x":269,"y":637,"v":0.5},{"x":326,"y":1057,"v":0.8},{"x":221,"y":954,"v":0.7},{"x":224,"y":368,"v":0.6},{"x":106,"y":767,"v":0.5},{"x":296,"y":584,"v":0.6},{"x":557,"y":464,"v":1.3},{"x":658,"y":1153,"v":1.8},{"x":727,"y":1203,"v":1.9},{"x":845,"y":1218,"v":1.5},{"x":686,"y":1160,"v":1.0},{"x":840,"y":1062,"v":1.3},{"x":811,"y":1093,"v":0.8},{"x":778,"y":1069,"v":0.7},{"x":816,"y":1151,"v":0.9},{"x":776,"y":1175,"v":0.8},{"x":850,"y":1170,"v":0.9},{"x":725,"y":1112,"v":0.6},{"x":922,"y":1007,"v":1.3},{"x":922,"y":1040,"v":0.9},{"x":955,"y":1064,"v":1.0},{"x":898,"y":1074,"v":1.0},{"x":989,"y":1060,"v":1.2},{"x":922,"y":1122,"v":0.8},{"x":960,"y":1127,"v":0.9},{"x":931,"y":1146,"v":0.7},{"x":984,"y":1199,"v":0.6},{"x":912,"y":1208,"v":0.5},{"x":965,"y":1093,"v":0.8},{"x":787,"y":1045,"v":0.5},{"x":882,"y":1308,"v":1.3},{"x":890,"y":1325,"v":1.6},{"x":905,"y":1320,"v":1.3},{"x":925,"y":1320,"v":1.2},{"x":940,"y":1335,"v":1.1},{"x":900,"y":1340,"v":1.5},{"x":920,"y":1340,"v":1.2},{"x":883,"y":1360,"v":1.4},{"x":905,"y":1360,"v":1.4},{"x":925,"y":1360,"v":0.9},{"x":942,"y":1360,"v":1.2},{"x":895,"y":1375,"v":1.4},{"x":915,"y":1378,"v":1.3},{"x":935,"y":1375,"v":1.0},{"x":885,"y":1390,"v":1.5},{"x":905,"y":1395,"v":1.6},{"x":925,"y":1395,"v":1.4},{"x":900,"y":1410,"v":1.5},{"x":915,"y":1403,"v":1.5},{"x":930,"y":1345,"v":1.2},{"x":890,"y":1350,"v":1.4}
],"SST":[
{"x":893,"y":279,"v":5},{"x":888,"y":296,"v":3.5},{"x":907,"y":311,"v":3},{"x":970,"y":296,"v":4},{"x":979,"y":266,"v":4.5},{"x":989,"y":285,"v":2.5},{"x":931,"y":330,"v":2.5},{"x":984,"y":349,"v":2.5},{"x":864,"y":378,"v":3.5},{"x":874,"y":397,"v":2},{"x":850,"y":359,"v":2},{"x":936,"y":385,"v":2.5},{"x":898,"y":407,"v":3.5},{"x":869,"y":429,"v":3.2},{"x":896,"y":423,"v":3},{"x":811,"y":460,"v":4.3},{"x":926,"y":448,"v":3},{"x":984,"y":455,"v":4.5},{"x":850,"y":464,"v":2.5},{"x":778,"y":529,"v":2.5},{"x":1003,"y":522,"v":3.5},{"x":1008,"y":546,"v":4},{"x":1018,"y":575,"v":4.5},{"x":1024,"y":589,"v":6.5},{"x":1051,"y":586,"v":3.5},{"x":1046,"y":632,"v":2},{"x":1090,"y":613,"v":1.5},{"x":1133,"y":685,"v":2.5},{"x":1056,"y":680,"v":2},{"x":1080,"y":711,"v":2},{"x":1123,"y":709,"v":1.5},{"x":1073,"y":541,"v":1.5},{"x":1099,"y":551,"v":1.3},{"x":1042,"y":421,"v":1.2},{"x":1123,"y":498,"v":1.5},{"x":922,"y":669,"v":5},{"x":998,"y":725,"v":1.3},{"x":619,"y":754,"v":6},{"x":603,"y":767,"v":3.5},{"x":593,"y":788,"v":3.5},{"x":595,"y":805,"v":4.5},{"x":645,"y":743,"v":2},{"x":605,"y":882,"v":2.5},{"x":603,"y":899,"v":2.5},{"x":631,"y":848,"v":1.5},{"x":648,"y":935,"v":3},{"x":684,"y":973,"v":2.5},{"x":737,"y":957,"v":3},{"x":634,"y":954,"v":1.2},{"x":691,"y":920,"v":1.2},{"x":720,"y":925,"v":1.2},{"x":542,"y":467,"v":4},{"x":579,"y":428,"v":1.5},{"x":533,"y":455,"v":1},{"x":379,"y":937,"v":1.5},{"x":381,"y":957,"v":1.3},{"x":202,"y":899,"v":1.2},{"x":370,"y":793,"v":1.2},{"x":221,"y":493,"v":0.8},{"x":1073,"y":892,"v":1.5},{"x":758,"y":1084,"v":1.7},{"x":706,"y":1170,"v":2.5},{"x":756,"y":1180,"v":3},{"x":715,"y":1191,"v":1.5},{"x":677,"y":1138,"v":2},{"x":634,"y":1151,"v":1.3},{"x":768,"y":1122,"v":1.2},{"x":691,"y":1160,"v":1.2},{"x":917,"y":1319,"v":3},{"x":883,"y":1362,"v":1.5},{"x":893,"y":1352,"v":1.2},{"x":936,"y":1348,"v":1.0}
]},"concat":[
{"title":{"text":"GAD2","offset":20},"width":576,"height":520,"layer":[{"data":{"name":"cells"},"mark":{"type":"circle","size":72,"opacity":1,"color":"#d3d3d3"},"encoding":{"x":{"field":"x","type":"quantitative","scale":{"domain":[0,1557],"nice":false,"zero":false},"axis":null},"y":{"field":"y","type":"quantitative","scale":{"domain":[180,1740],"reverse":true,"nice":false,"zero":false},"axis":null}}},{"data":{"name":"GAD2"},"mark":{"type":"circle","size":44,"opacity":1},"encoding":{"x":{"field":"x","type":"quantitative"},"y":{"field":"y","type":"quantitative"},"color":{"field":"v","type":"quantitative","scale":{"domain":[0,1.76],"range":["lightgrey","blue"],"interpolate":"lab"},"legend":{"orient":"none","legendX":482,"legendY":108,"title":null,"gradientLength":229,"gradientThickness":46,"values":[0,0.5,1,1.5],"format":".1f","labelOffset":16,"labelOverlap":false,"encoding":{"labels":{"baseline":{"value":"middle"}}}}}}}]},
{"title":{"text":"GAD1","offset":20},"width":576,"height":520,"layer":[{"data":{"name":"cells"},"mark":{"type":"circle","size":72,"opacity":1,"color":"#d3d3d3"},"encoding":{"x":{"field":"x","type":"quantitative","scale":{"domain":[0,1557],"nice":false,"zero":false},"axis":null},"y":{"field":"y","type":"quantitative","scale":{"domain":[180,1740],"reverse":true,"nice":false,"zero":false},"axis":null}}},{"data":{"name":"GAD1"},"mark":{"type":"circle","size":44,"opacity":1},"encoding":{"x":{"field":"x","type":"quantitative"},"y":{"field":"y","type":"quantitative"},"color":{"field":"v","type":"quantitative","scale":{"domain":[0,1.55],"range":["lightgrey","blue"],"interpolate":"lab"},"legend":{"orient":"none","legendX":482,"legendY":108,"title":null,"gradientLength":229,"gradientThickness":46,"values":[0,0.5,1,1.5],"format":".1f","labelOffset":16,"labelOverlap":false,"encoding":{"labels":{"baseline":{"value":"middle"}}}}}}}]},
{"title":{"text":"SLC32A1","offset":20},"width":576,"height":520,"layer":[{"data":{"name":"cells"},"mark":{"type":"circle","size":72,"opacity":1,"color":"#d3d3d3"},"encoding":{"x":{"field":"x","type":"quantitative","scale":{"domain":[0,1557],"nice":false,"zero":false},"axis":null},"y":{"field":"y","type":"quantitative","scale":{"domain":[180,1740],"reverse":true,"nice":false,"zero":false},"axis":null}}},{"data":{"name":"SLC32A1"},"mark":{"type":"circle","size":44,"opacity":1},"encoding":{"x":{"field":"x","type":"quantitative"},"y":{"field":"y","type":"quantitative"},"color":{"field":"v","type":"quantitative","scale":{"domain":[0,2.17],"range":["lightgrey","blue"],"interpolate":"lab"},"legend":{"orient":"none","legendX":482,"legendY":108,"title":null,"gradientLength":229,"gradientThickness":46,"values":[0,0.5,1,1.5,2],"format":".1f","labelOffset":16,"labelOverlap":false,"encoding":{"labels":{"baseline":{"value":"middle"}}}}}}}]},
{"title":{"text":"SLC6A1","offset":20},"width":576,"height":520,"layer":[{"data":{"name":"cells"},"mark":{"type":"circle","size":72,"opacity":1,"color":"#d3d3d3"},"encoding":{"x":{"field":"x","type":"quantitative","scale":{"domain":[0,1557],"nice":false,"zero":false},"axis":null},"y":{"field":"y","type":"quantitative","scale":{"domain":[180,1740],"reverse":true,"nice":false,"zero":false},"axis":null}}},{"data":{"name":"SLC6A1"},"mark":{"type":"circle","size":44,"opacity":1},"encoding":{"x":{"field":"x","type":"quantitative"},"y":{"field":"y","type":"quantitative"},"color":{"field":"v","type":"quantitative","scale":{"domain":[0,1.76],"range":["lightgrey","blue"],"interpolate":"lab"},"legend":{"orient":"none","legendX":482,"legendY":108,"title":null,"gradientLength":229,"gradientThickness":46,"values":[0,0.5,1,1.5],"format":".1f","labelOffset":16,"labelOverlap":false,"encoding":{"labels":{"baseline":{"value":"middle"}}}}}}}]},
{"title":{"text":"PAX2","offset":18},"width":576,"height":520,"layer":[{"data":{"name":"cells"},"mark":{"type":"circle","size":78,"opacity":1,"color":"#d3d3d3"},"encoding":{"x":{"field":"x","type":"quantitative","scale":{"domain":[-1.15,1495],"nice":false,"zero":false},"axis":null},"y":{"field":"y","type":"quantitative","scale":{"domain":[171.7,1670.2],"reverse":true,"nice":false,"zero":false},"axis":null}}},{"data":{"name":"PAX2"},"mark":{"type":"circle","size":47,"opacity":1},"encoding":{"x":{"field":"x","type":"quantitative"},"y":{"field":"y","type":"quantitative"},"color":{"field":"v","type":"quantitative","scale":{"domain":[0,2.81],"range":["lightgrey","blue"],"interpolate":"lab"},"legend":{"orient":"none","legendX":502,"legendY":120,"title":null,"gradientLength":229,"gradientThickness":46,"values":[0,1,2],"format":"d","labelOffset":15,"labelOverlap":false,"encoding":{"labels":{"baseline":{"value":"middle"}}}}}}}]},
{"title":{"text":"CALB2","offset":18},"width":576,"height":520,"layer":[{"data":{"name":"cells"},"mark":{"type":"circle","size":78,"opacity":1,"color":"#d3d3d3"},"encoding":{"x":{"field":"x","type":"quantitative","scale":{"domain":[-1.15,1495],"nice":false,"zero":false},"axis":null},"y":{"field":"y","type":"quantitative","scale":{"domain":[171.7,1670.2],"reverse":true,"nice":false,"zero":false},"axis":null}}},{"data":{"name":"CALB2"},"mark":{"type":"circle","size":47,"opacity":1},"encoding":{"x":{"field":"x","type":"quantitative"},"y":{"field":"y","type":"quantitative"},"color":{"field":"v","type":"quantitative","scale":{"domain":[0,3.37],"range":["lightgrey","blue"],"interpolate":"lab"},"legend":{"orient":"none","legendX":502,"legendY":120,"title":null,"gradientLength":229,"gradientThickness":46,"values":[0,1,2,3],"format":"d","labelOffset":15,"labelOverlap":false,"encoding":{"labels":{"baseline":{"value":"middle"}}}}}}}]},
{"title":{"text":"SST","offset":18},"width":576,"height":520,"layer":[{"data":{"name":"cells"},"mark":{"type":"circle","size":78,"opacity":1,"color":"#d3d3d3"},"encoding":{"x":{"field":"x","type":"quantitative","scale":{"domain":[-1.15,1495],"nice":false,"zero":false},"axis":null},"y":{"field":"y","type":"quantitative","scale":{"domain":[171.7,1670.2],"reverse":true,"nice":false,"zero":false},"axis":null}}},{"data":{"name":"SST"},"mark":{"type":"circle","size":47,"opacity":1},"encoding":{"x":{"field":"x","type":"quantitative"},"y":{"field":"y","type":"quantitative"},"color":{"field":"v","type":"quantitative","scale":{"domain":[0,6.93],"range":["lightgrey","blue"],"interpolate":"lab"},"legend":{"orient":"none","legendX":502,"legendY":120,"title":null,"gradientLength":229,"gradientThickness":46,"values":[0,2,4,6],"format":"d","labelOffset":15,"labelOverlap":false,"encoding":{"labels":{"baseline":{"value":"middle"}}}}}}}]}
]}
